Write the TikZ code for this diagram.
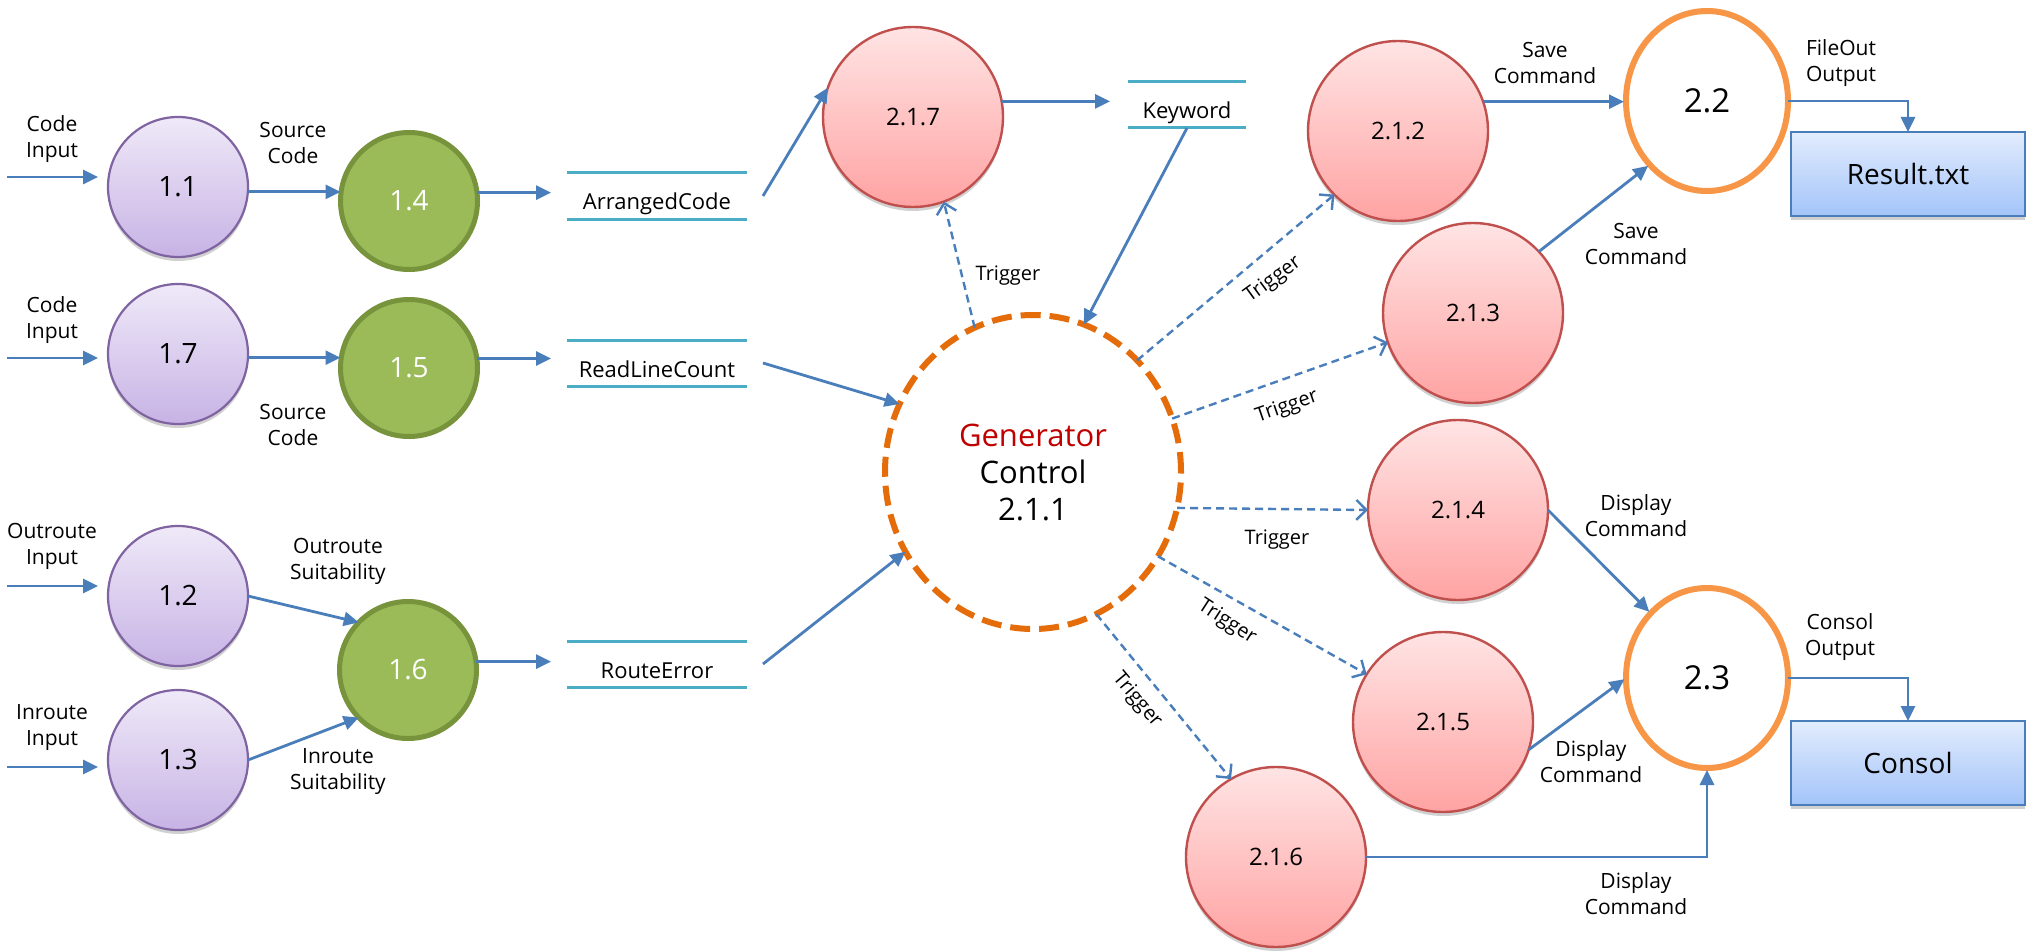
\documentclass[tikz,border=0pt]{standalone}
\usepackage{fontspec}
\setmainfont{Open Sans}
\usetikzlibrary{arrows.meta,shapes.geometric,shadows}

\definecolor{flowblue}{RGB}{74,126,187}
\definecolor{storeline}{RGB}{75,172,198}
\definecolor{purpletop}{RGB}{239,233,248}
\definecolor{purplebot}{RGB}{199,179,229}
\definecolor{purpleedge}{RGB}{128,100,162}
\definecolor{greenfill}{RGB}{155,187,89}
\definecolor{greenedge}{RGB}{119,147,60}
\definecolor{redtop}{RGB}{255,228,228}
\definecolor{redbot}{RGB}{255,163,163}
\definecolor{rededge}{RGB}{192,80,77}
\definecolor{ringorange}{RGB}{247,150,70}
\definecolor{genorange}{RGB}{228,108,10}
\definecolor{boxtop}{RGB}{226,236,253}
\definecolor{boxbot}{RGB}{163,196,249}
\definecolor{genred}{RGB}{192,0,0}

\tikzset{
  softshadow/.style={drop shadow={shadow xshift=0pt, shadow yshift=-4pt, opacity=.18, fill=black}},
  lbl/.style={align=center, font=\fontsize{21}{26}\selectfont, inner sep=0pt},
  triglbl/.style={font=\fontsize{20}{24}\selectfont, inner sep=0pt},
  purp/.style={circle, minimum size=140pt, inner sep=0pt, outer sep=0pt,
    draw=purpleedge, line width=2.2pt, top color=purpletop, bottom color=purplebot,
    font=\fontsize{28}{32}\selectfont, softshadow},
  grn/.style={circle, minimum size=137pt, inner sep=0pt, outer sep=0pt,
    draw=greenedge, line width=5pt, fill=greenfill, text=white,
    font=\fontsize{28}{32}\selectfont},
  redc/.style={circle, minimum size=180pt, inner sep=0pt, outer sep=0pt,
    draw=rededge, line width=2.4pt, top color=redtop, bottom color=redbot,
    font=\fontsize{24}{28}\selectfont, softshadow},
  ring/.style={ellipse, minimum width=162pt, minimum height=180pt, inner sep=0pt,
    outer sep=0pt, draw=ringorange, line width=6pt, fill=white,
    font=\fontsize{33}{38}\selectfont},
  genring/.style={ellipse, minimum width=296pt, minimum height=314pt, inner sep=0pt,
    outer sep=0pt, draw=genorange, line width=6pt, dash pattern=on 20pt off 9pt,
    fill=white, align=center, font=\fontsize{31}{37}\selectfont},
  store/.style={minimum width=180pt, minimum height=46pt, inner sep=0pt, outer sep=0pt,
    text height=28pt, text depth=0pt, font=\fontsize{22}{26}\selectfont},
  storeln/.style={draw=storeline, line width=3pt},
  outbox/.style={rectangle, minimum width=234pt, minimum height=84pt, inner sep=0pt,
    outer sep=0pt, draw=flowblue, line width=2.5pt, top color=boxtop, bottom color=boxbot,
    font=\fontsize{28}{32}\selectfont, softshadow},
  flow/.style={draw=flowblue, line width=2.8pt, -{Triangle[length=15pt,width=14pt]}},
  trigflow/.style={draw=flowblue, line width=2.4pt, dash pattern=on 8pt off 5pt,
    -{Straight Barb[length=10pt,width=20pt]}}
}

\begin{document}
\begin{tikzpicture}[x=1pt,y=-1pt]
\fill[white] (0,0) rectangle (2028,952);
\useasboundingbox (0,0) rectangle (2028,952);

% ---- first-level processes ----
\node[purp] (n11) at (178,187) {1.1};
\node[purp] (n17) at (178,354) {1.7};
\node[purp] (n12) at (178,596) {1.2};
\node[purp] (n13) at (178,760) {1.3};
\node[grn] (n14) at (409,201) {1.4};
\node[grn] (n15) at (409,368) {1.5};
\node[grn] (n16) at (408,670) {1.6};

% ---- data stores ----
\node[store] (ac) at (657,196) {ArrangedCode};
\node[store] (rlc) at (657,363) {ReadLineCount};
\node[store] (re) at (657,664) {RouteError};
\node[store, minimum width=118pt] (kw) at (1187,105) {Keyword};
\foreach \s in {ac,rlc,re,kw}{
  \draw[storeln] (\s.north west) -- (\s.north east) (\s.south west) -- (\s.south east);
}

% ---- generator and its sub-processes ----
\node[genring] (gen) at (1033,472) {\textcolor{genred}{Generator}\\Control\\2.1.1};
\node[redc] (n217) at (913,117) {2.1.7};
\node[redc] (n212) at (1398,131) {2.1.2};
\node[redc] (n213) at (1473,313) {2.1.3};
\node[redc] (n214) at (1458,510) {2.1.4};
\node[redc] (n215) at (1443,722) {2.1.5};
\node[redc] (n216) at (1276,857) {2.1.6};

% ---- output processes and sinks ----
\node[ring] (n22) at (1707,101) {2.2};
\node[ring] (n23) at (1707,678) {2.3};
\node[outbox] (res) at (1908,174) {Result.txt};
\node[outbox] (con) at (1908,763) {Consol};

% ---- external inputs ----
\coordinate (in1) at (7,177);
\coordinate (in2) at (7,358);
\coordinate (in3) at (7,586);
\coordinate (in4) at (7,767);
\draw[flow, shorten >=10pt] (in1) -- (in1 -| n11.west);
\draw[flow, shorten >=10pt] (in2) -- (in2 -| n17.west);
\draw[flow, shorten >=10pt] (in3) -- (in3 -| n12.west);
\draw[flow, shorten >=10pt] (in4) -- (in4 -| n13.west);

% ---- first-level flows ----
\draw[flow] (n11.-4) -- (n11.-4 -| n14.west);
\draw[flow, shorten >=16pt] (n14.7) -- (n14.7 -| ac.west);
\draw[flow] (n17.-3) -- (n17.-3 -| n15.west);
\draw[flow, shorten >=16pt] (n15.8) -- (n15.8 -| rlc.west);
\draw[flow] (n12.0) -- (n16.136);
\draw[flow] (n13.0) -- (n16.224);
\draw[flow, shorten >=16pt] (n16.7) -- (n16.7 -| re.west);

% ---- flows into the generator ----
\draw[flow] ([xshift=16pt]ac.east) -- (n217.161);
\draw[flow] ([xshift=16pt]rlc.east) -- (gen.153);
\draw[flow] ([xshift=16pt]re.east) -- (gen.212);
\draw[flow, shorten >=18pt] (n217.10) -- (n217.10 -| kw.west);
\draw[flow] (kw.south) -- (gen.71.4);

% ---- triggers ----
\draw[trigflow] (gen.112.5) -- (n217.-70);
\draw[trigflow] (gen.47.4) -- (n212.225);
\draw[trigflow] (gen.21.6) -- (n213.199);
\draw[trigflow] (gen.-14) -- (n214.180);
\draw[trigflow] (gen.-34) -- (n215.148);
\draw[trigflow] (gen.-66) -- (n216.120);

% ---- commands and outputs ----
\draw[flow, shorten >=2pt] (n212.19.5) -- (n212.19.5 -| n22.west);
\draw[flow, shorten >=2pt] (n213.43) -- (n22.228);
\draw[flow] (n22.east) -| (res.north);
\draw[flow, shorten >=2pt] (n214.0) -- (n23.131);
\draw[flow, shorten >=2pt] (n215.-18) -- (n23.west);
\draw[flow, shorten >=2pt] (n216.east) -| (n23.south);
\draw[flow] (n23.east) -| (con.north);

% ---- labels ----
\node[lbl] (lci1) at (52,139) {Code\\Input};
\node[lbl] (lci2) at (52,320) {Code\\Input};
\node[lbl] (loi) at (52,546) {Outroute\\Input};
\node[lbl] (lii) at (52,728) {Inroute\\Input};
\node[lbl] (lsc1) at (293,143) {Source\\Code};
\node[lbl] (lsc2) at (293,425) {Source\\Code};
\node[lbl] (los) at (338,561) {Outroute\\Suitability};
\node[lbl] (lis) at (338,772) {Inroute\\Suitability};
\node[lbl] (lsv1) at (1545,63) {Save\\Command};
\node[lbl] (lsv2) at (1636,244) {Save\\Command};
\node[lbl] (lfo) at (1841,63) {FileOut\\Output};
\node[lbl] (ldc1) at (1636,516) {Display\\Command};
\node[lbl] (ldc2) at (1591,762) {Display\\Command};
\node[lbl] (ldc3) at (1636,894) {Display\\Command};
\node[lbl] (lco) at (1840,637) {Consol\\Output};

\node[triglbl] (t0) at (1008,276) {Trigger};
\node[triglbl, rotate=36] (t1) at (1273,280) {Trigger};
\node[triglbl, rotate=19] (t2) at (1287,407) {Trigger};
\node[triglbl] (t3) at (1277,540) {Trigger};
\node[triglbl, rotate=-33] (t4) at (1227,622) {Trigger};
\node[triglbl, rotate=-50] (t5) at (1137,700) {Trigger};
\end{tikzpicture}
\end{document}
